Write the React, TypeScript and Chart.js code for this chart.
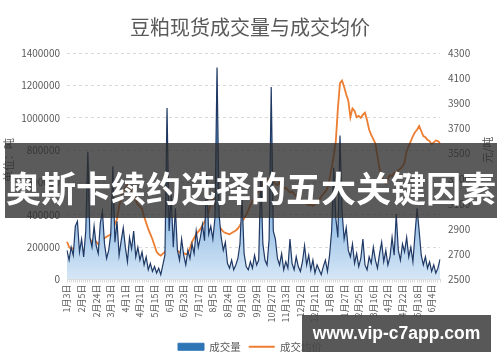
import React, { useEffect, useRef } from "react";
import { Chart, registerables } from "chart.js";

Chart.register(...registerables);

const chartTitle = "豆粕现货成交量与成交均价";
const seriesNames = ["成交量", "成交均价"];
const leftAxisTitle = "单位：吨";
const rightAxisTitle = "元/吨";
const bannerText = "奥斯卡续约选择的五大关键因素";
const watermarkText = "www.vip-c7app.com";

const tickLabels = [
  "1月3日", "2月5日", "2月24日", "3月13日", "4月1日", "4月21日", "5月15日",
  "6月3日", "6月23日", "7月17日", "8月5日", "8月24日", "9月10日", "9月29日",
  "10月27日", "11月13日", "12月2日", "12月21日", "1月8日", "1月27日", "2月25日",
  "3月16日", "4月2日", "4月22日", "5月18日", "6月4日",
];
const TICK_EVERY = 7;

const volumeTicks = [0, 200000, 400000, 600000, 800000, 1000000, 1200000, 1400000];
const priceTicks = [2500, 2700, 2900, 3100, 3300, 3500, 3700, 3900, 4100, 4300];

const volume = [
  180000, 120000, 200000, 150000, 330000, 360000, 170000, 250000, 140000, 300000,
  790000, 260000, 200000, 330000, 210000, 160000, 350000, 420000, 220000, 130000,
  180000, 280000, 700000, 230000, 360000, 150000, 240000, 320000, 200000, 110000,
  260000, 190000, 300000, 140000, 200000, 120000, 170000, 90000, 140000, 60000,
  100000, 50000, 80000, 40000, 70000, 30000, 90000, 150000, 1060000, 300000,
  520000, 200000, 440000, 180000, 120000, 250000, 150000, 90000, 180000, 130000,
  220000, 160000, 300000, 200000, 260000, 340000, 240000, 650000, 280000, 330000,
  250000, 380000, 1310000, 400000, 260000, 180000, 230000, 100000, 70000, 120000,
  60000, 90000, 130000, 220000, 500000, 160000, 80000, 60000, 110000, 70000,
  150000, 90000, 120000, 650000, 220000, 120000, 90000, 250000, 1190000, 300000,
  250000, 130000, 90000, 160000, 60000, 110000, 70000, 250000, 100000, 60000,
  140000, 80000, 50000, 110000, 210000, 90000, 150000, 60000, 120000, 40000,
  90000, 60000, 30000, 80000, 120000, 50000, 150000, 300000, 690000, 380000,
  260000, 890000, 420000, 250000, 320000, 180000, 140000, 220000, 100000, 160000,
  80000, 130000, 250000, 90000, 60000, 140000, 100000, 200000, 120000, 70000,
  160000, 230000, 110000, 180000, 90000, 140000, 260000, 150000, 405000, 180000,
  120000, 220000, 170000, 260000, 140000, 200000, 110000, 280000, 440000, 300000,
  150000, 90000, 140000, 70000, 110000, 50000, 90000, 40000, 70000, 125000,
];

const price = [
  2800, 2760, 2740, 2750, 2730, 2715, 2730, 2745, 2730, 2750,
  2740, 2780, 2810, 2790, 2800, 2780, 2795, 2810, 2830, 2840,
  2850, 2860, 2900, 2940, 2980, 3080, 3150, 3200, 3230, 3250,
  3220, 3200, 3170, 3130, 3095, 3080, 3060, 3000, 2950, 2900,
  2860, 2820, 2770, 2720, 2700, 2690, 2705, 2720, 2735, 2730,
  2725, 2740, 2720, 2730, 2715, 2720, 2710, 2700, 2705, 2750,
  2800, 2830, 2860, 2880, 2900, 2930, 2960, 2985, 3040, 3100,
  3140, 3100, 2960, 2920, 2900, 2880, 2870, 2865, 2860, 2870,
  2880, 2890, 2905, 2930, 2960, 2985, 3015, 3050, 3090, 3120,
  3150, 3180, 3200, 3230, 3260, 3280, 3300, 3290, 3270, 3280,
  3260, 3250, 3270, 3240, 3220, 3230, 3210, 3190, 3200, 3180,
  3160, 3150, 3140, 3120, 3110, 3100, 3090, 3095, 3085, 3100,
  3110, 3130, 3160, 3180, 3200, 3225, 3300, 3385, 3480, 3600,
  3860, 4060, 4080, 4030, 3970, 3920, 3790, 3860, 3840, 3790,
  3800, 3785, 3810, 3825, 3765, 3690, 3650, 3615, 3580, 3480,
  3380, 3320, 3280, 3260, 3300, 3330, 3320, 3350, 3340, 3370,
  3380, 3400, 3430, 3520, 3560, 3600, 3640, 3670, 3690, 3720,
  3680, 3640, 3630, 3610, 3600, 3575, 3590, 3605, 3600, 3585,
];

const categories = volume.map((_, i) =>
  i % TICK_EVERY === 0 && tickLabels[i / TICK_EVERY] ? tickLabels[i / TICK_EVERY] : ""
);

const FONT = '"Noto Sans CJK SC", "Noto Sans", sans-serif';
const TEXT = "#595959";
const GRID = "#d9d9d9";

const axisTitlePlugin = {
  id: "axisTitles",
  afterDraw(chart: any) {
    const { ctx, chartArea } = chart;
    ctx.save();
    ctx.fillStyle = TEXT;
    ctx.font = `11px ${FONT}`;
    ctx.textAlign = "center";
    ctx.textBaseline = "middle";
    ctx.translate(9, 160);
    ctx.rotate(-Math.PI / 2);
    ctx.fillText(leftAxisTitle, 0, 0);
    ctx.restore();
    ctx.save();
    ctx.fillStyle = TEXT;
    ctx.font = `11px ${FONT}`;
    ctx.textAlign = "center";
    ctx.textBaseline = "middle";
    ctx.translate(chartArea.right + 48, 150);
    ctx.rotate(-Math.PI / 2);
    ctx.fillText(rightAxisTitle, 0, 0);
    ctx.restore();
  },
};

export default function App() {
  const ref = useRef<HTMLCanvasElement | null>(null);

  useEffect(() => {
    if (!ref.current) return;
    const chart = new Chart(ref.current, {
      type: "line",
      data: {
        labels: categories,
        datasets: [
          {
            label: seriesNames[0],
            data: volume,
            yAxisID: "y",
            borderColor: "#1f3864",
            borderWidth: 1.2,
            pointRadius: 0,
            tension: 0,
            fill: "origin",
            backgroundColor: (c: any) => {
              const { ctx, chartArea } = c.chart;
              if (!chartArea) return "rgba(91,155,213,0.6)";
              const g = ctx.createLinearGradient(0, chartArea.top, 0, chartArea.bottom);
              g.addColorStop(0, "#2a69b0");
              g.addColorStop(0.55, "#6fa6dc");
              g.addColorStop(1, "#d6e7f6");
              return g;
            },
          },
          {
            label: seriesNames[1],
            data: price,
            yAxisID: "y1",
            borderColor: "#ed7d31",
            borderWidth: 1.8,
            pointRadius: 0,
            tension: 0,
            fill: false,
          },
        ],
      },
      options: {
        responsive: false,
        animation: false,
        layout: { padding: { left: 0, right: 0, top: 0, bottom: 0 } },
        plugins: {
          title: {
            display: true,
            text: chartTitle,
            color: TEXT,
            font: { size: 20, weight: "normal", family: FONT },
            padding: { top: 15, bottom: 14 },
          },
          legend: {
            position: "bottom",
            labels: {
              usePointStyle: true,
              pointStyleWidth: 26,
              boxHeight: 7,
              padding: 8,
              color: TEXT,
              font: { size: 10.5, family: FONT },
              sort: (a: any, b: any) => a.datasetIndex - b.datasetIndex,
              generateLabels: (chart: any) => {
                const items = (Chart.defaults.plugins.legend.labels as any).generateLabels(chart);
                items.forEach((it: any) => {
                  if (it.datasetIndex === 0) {
                    it.pointStyle = "rect";
                    it.fillStyle = "#2e75b6";
                    it.strokeStyle = "#2e75b6";
                    it.lineWidth = 1;
                  } else {
                    it.pointStyle = "line";
                    it.strokeStyle = "#ed7d31";
                    it.lineWidth = 2;
                  }
                });
                return items;
              },
            },
          },
          tooltip: { enabled: false },
        },
        scales: {
          x: {
            type: "category",
            offset: false,
            afterFit: (s: any) => {
              s.height = 54;
            },
            grid: { display: true, drawOnChartArea: false, drawTicks: true, tickLength: 3, color: GRID },
            border: { display: true, color: GRID },
            ticks: {
              autoSkip: false,
              maxRotation: 90,
              minRotation: 90,
              padding: 2,
              color: TEXT,
              font: { size: 9, family: FONT },
            },
          },
          y: {
            position: "left",
            min: volumeTicks[0],
            max: volumeTicks[volumeTicks.length - 1],
            afterFit: (s: any) => {
              s.width = 67;
            },
            afterBuildTicks: (s: any) => {
              s.ticks = volumeTicks.map((v) => ({ value: v }));
            },
            grid: { color: GRID, drawTicks: false, lineWidth: 1 },
            border: { display: false, dash: [3, 3] },
            ticks: {
              padding: 7,
              color: TEXT,
              font: { size: 10, family: FONT },
              callback: (v: any) => String(v),
            },
          },
          y1: {
            position: "right",
            min: priceTicks[0],
            max: priceTicks[priceTicks.length - 1],
            afterFit: (s: any) => {
              s.width = 60;
            },
            afterBuildTicks: (s: any) => {
              s.ticks = priceTicks.map((v) => ({ value: v }));
            },
            grid: { drawOnChartArea: false, drawTicks: false },
            border: { display: false },
            ticks: {
              padding: 8,
              color: TEXT,
              font: { size: 10, family: FONT },
              callback: (v: any) => String(v),
            },
          },
        },
      },
      plugins: [axisTitlePlugin],
    } as any);
    return () => chart.destroy();
  }, []);

  return (
    <div style={{ position: "absolute", left: 0, top: 0, width: 500, height: 362, background: "#fff", overflow: "hidden" }}>
      <canvas ref={ref} width={500} height={362} style={{ display: "block" }} />
      <div
        style={{
          position: "absolute",
          left: 5,
          top: 143,
          width: 492,
          height: 75,
          background: "rgba(45,45,45,0.78)",
          color: "#fff",
          fontFamily: FONT,
          fontWeight: 700,
          fontSize: 35,
          lineHeight: "75px",
          textAlign: "center",
          whiteSpace: "nowrap",
          paddingTop: 6,
          boxSizing: "border-box",
        }}
      >
        {bannerText}
      </div>
      <div
        style={{
          position: "absolute",
          left: 302,
          top: 315,
          width: 189,
          height: 37,
          background: "rgba(70,70,70,0.9)",
          color: "#fff",
          fontFamily: '"Liberation Sans", Arial, sans-serif',
          fontWeight: 700,
          fontSize: 17.5,
          lineHeight: "37px",
          textAlign: "center",
          whiteSpace: "nowrap",
        }}
      >
        {watermarkText}
      </div>
    </div>
  );
}
